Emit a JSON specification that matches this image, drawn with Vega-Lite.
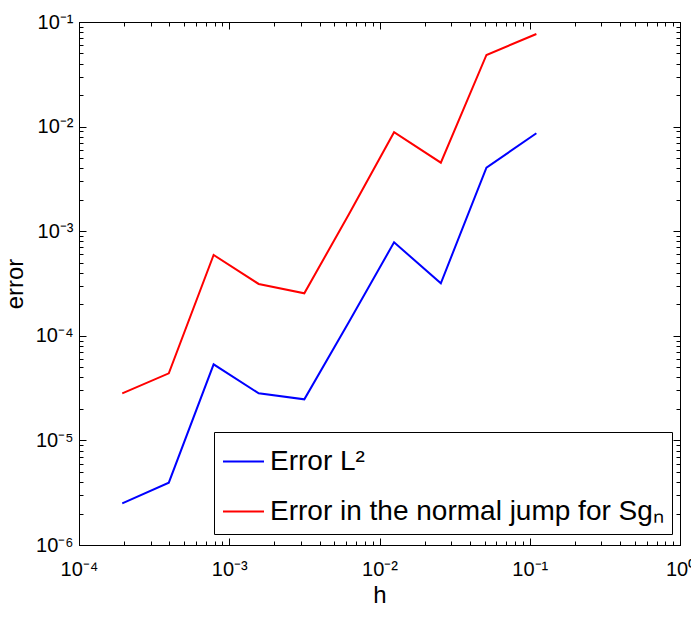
{
  "$schema": "https://vega.github.io/schema/vega-lite/v6.json",
  "width": 601,
  "height": 523,
  "padding": {"left": 3, "top": 12, "right": 5, "bottom": 3},
  "background": "white",
  "config": {
    "font": "Liberation Sans",
    "view": {"stroke": "black", "strokeWidth": 1},
    "axis": {"grid": false, "ticks": true, "domainColor": "black", "tickColor": "black", "labelColor": "black", "titleColor": "black", "titleFontWeight": "normal", "labelFont": "Liberation Sans", "titleFont": "Liberation Sans"}
  },
  "data": {
    "values": [
      {"h": 0.000194, "error": 0.0000025, "series": "Error L²"},
      {"h": 0.000396, "error": 0.00000394, "series": "Error L²"},
      {"h": 0.000787, "error": 0.0000534, "series": "Error L²"},
      {"h": 0.00157, "error": 0.0000282, "series": "Error L²"},
      {"h": 0.00316, "error": 0.0000247, "series": "Error L²"},
      {"h": 0.00627, "error": 0.000136, "series": "Error L²"},
      {"h": 0.0125, "error": 0.000783, "series": "Error L²"},
      {"h": 0.0256, "error": 0.000318, "series": "Error L²"},
      {"h": 0.0515, "error": 0.00405, "series": "Error L²"},
      {"h": 0.1107, "error": 0.00863, "series": "Error L²"},
      {"h": 0.000194, "error": 0.0000282, "series": "Error in the normal jump for Sgₙ"},
      {"h": 0.000396, "error": 0.0000438, "series": "Error in the normal jump for Sgₙ"},
      {"h": 0.000787, "error": 0.000592, "series": "Error in the normal jump for Sgₙ"},
      {"h": 0.00157, "error": 0.000313, "series": "Error in the normal jump for Sgₙ"},
      {"h": 0.00316, "error": 0.000255, "series": "Error in the normal jump for Sgₙ"},
      {"h": 0.00627, "error": 0.00146, "series": "Error in the normal jump for Sgₙ"},
      {"h": 0.0125, "error": 0.00883, "series": "Error in the normal jump for Sgₙ"},
      {"h": 0.0256, "error": 0.00452, "series": "Error in the normal jump for Sgₙ"},
      {"h": 0.0515, "error": 0.0484, "series": "Error in the normal jump for Sgₙ"},
      {"h": 0.1107, "error": 0.0768, "series": "Error in the normal jump for Sgₙ"}
    ]
  },
  "layer": [
    {
      "mark": {"type": "line", "strokeWidth": 2, "clip": true},
      "encoding": {
        "x": {
          "field": "h", "type": "quantitative",
          "scale": {"type": "log", "domain": [0.0001, 1], "nice": false},
          "axis": {
            "orient": "bottom",
            "title": "h", "titleFontSize": 24, "titlePadding": 4,
            "values": [0.0001, 0.001, 0.01, 0.1, 1],
            "labelExpr": "datum.value == 0.0001 ? '10⁻⁴' : datum.value == 0.001 ? '10⁻³' : datum.value == 0.01 ? '10⁻²' : datum.value == 0.1 ? '10⁻¹' : datum.value == 1 ? '10⁰' : ''",
            "labelFontSize": 20, "labelOverlap": false, "labelFlush": false, "labelPadding": 21,
            "tickSize": -7
          }
        },
        "y": {
          "field": "error", "type": "quantitative",
          "scale": {"type": "log", "domain": [0.000001, 0.1], "nice": false},
          "axis": {
            "orient": "left",
            "title": "error", "titleFontSize": 24, "titlePadding": 8,
            "values": [0.000001, 0.00001, 0.0001, 0.001, 0.01, 0.1],
            "labelExpr": "datum.value == 0.1 ? '10⁻¹' : datum.value == 0.01 ? '10⁻²' : datum.value == 0.001 ? '10⁻³' : datum.value == 0.0001 ? '10⁻⁴' : datum.value == 0.00001 ? '10⁻⁵' : datum.value == 0.000001 ? '10⁻⁶' : ''",
            "labelFontSize": 20, "labelOverlap": false, "labelFlush": false, "labelPadding": 13,
            "tickSize": -7
          }
        },
        "color": {
          "field": "series", "type": "nominal",
          "scale": {"domain": ["Error L²", "Error in the normal jump for Sgₙ"], "range": ["#0000ff", "#ff0000"]},
          "legend": {
            "orient": "none", "legendX": 135, "legendY": 410,
            "title": null,
            "symbolType": "stroke", "symbolSize": 1681, "symbolStrokeWidth": 2,
            "labelFontSize": 28, "labelFont": "Liberation Sans", "labelColor": "black", "labelOffset": 5,
            "rowPadding": 14, "padding": 8,
            "strokeColor": "black", "fillColor": "white", "labelLimit": 600
          }
        }
      }
    },
    {
      "mark": {"type": "line", "opacity": 0},
      "encoding": {
        "x": {
          "field": "h", "type": "quantitative",
          "axis": {"orient": "top", "title": null, "labels": false, "values": [0.0001, 0.001, 0.01, 0.1, 1], "tickSize": -7}
        },
        "y": {
          "field": "error", "type": "quantitative",
          "axis": {"orient": "right", "title": null, "labels": false, "values": [0.000001, 0.00001, 0.0001, 0.001, 0.01, 0.1], "tickSize": -7}
        },
        "detail": {"field": "series"}
      }
    },
    {
      "mark": {"type": "line", "opacity": 0},
      "encoding": {
        "x": {
          "field": "h", "type": "quantitative",
          "axis": {"orient": "bottom", "title": null, "labels": false, "domain": false, "tickSize": -4,
            "values": [0.0002,0.0003,0.0004,0.0005,0.0006,0.0007,0.0008,0.0009,0.002,0.003,0.004,0.005,0.006,0.007,0.008,0.009,0.02,0.03,0.04,0.05,0.06,0.07,0.08,0.09,0.2,0.3,0.4,0.5,0.6,0.7,0.8,0.9]}
        },
        "y": {
          "field": "error", "type": "quantitative",
          "axis": {"orient": "left", "title": null, "labels": false, "domain": false, "tickSize": -4,
            "values": [0.000002,0.000003,0.000004,0.000005,0.000006,0.000007,0.000008,0.000009,0.00002,0.00003,0.00004,0.00005,0.00006,0.00007,0.00008,0.00009,0.0002,0.0003,0.0004,0.0005,0.0006,0.0007,0.0008,0.0009,0.002,0.003,0.004,0.005,0.006,0.007,0.008,0.009,0.02,0.03,0.04,0.05,0.06,0.07,0.08,0.09]}
        },
        "detail": {"field": "series"}
      }
    },
    {
      "mark": {"type": "line", "opacity": 0},
      "encoding": {
        "x": {
          "field": "h", "type": "quantitative",
          "axis": {"orient": "top", "title": null, "labels": false, "domain": false, "tickSize": -4,
            "values": [0.0002,0.0003,0.0004,0.0005,0.0006,0.0007,0.0008,0.0009,0.002,0.003,0.004,0.005,0.006,0.007,0.008,0.009,0.02,0.03,0.04,0.05,0.06,0.07,0.08,0.09,0.2,0.3,0.4,0.5,0.6,0.7,0.8,0.9]}
        },
        "y": {
          "field": "error", "type": "quantitative",
          "axis": {"orient": "right", "title": null, "labels": false, "domain": false, "tickSize": -4,
            "values": [0.000002,0.000003,0.000004,0.000005,0.000006,0.000007,0.000008,0.000009,0.00002,0.00003,0.00004,0.00005,0.00006,0.00007,0.00008,0.00009,0.0002,0.0003,0.0004,0.0005,0.0006,0.0007,0.0008,0.0009,0.002,0.003,0.004,0.005,0.006,0.007,0.008,0.009,0.02,0.03,0.04,0.05,0.06,0.07,0.08,0.09]}
        },
        "detail": {"field": "series"}
      }
    }
  ],
  "resolve": {"axis": {"x": "independent", "y": "independent"}}
}
